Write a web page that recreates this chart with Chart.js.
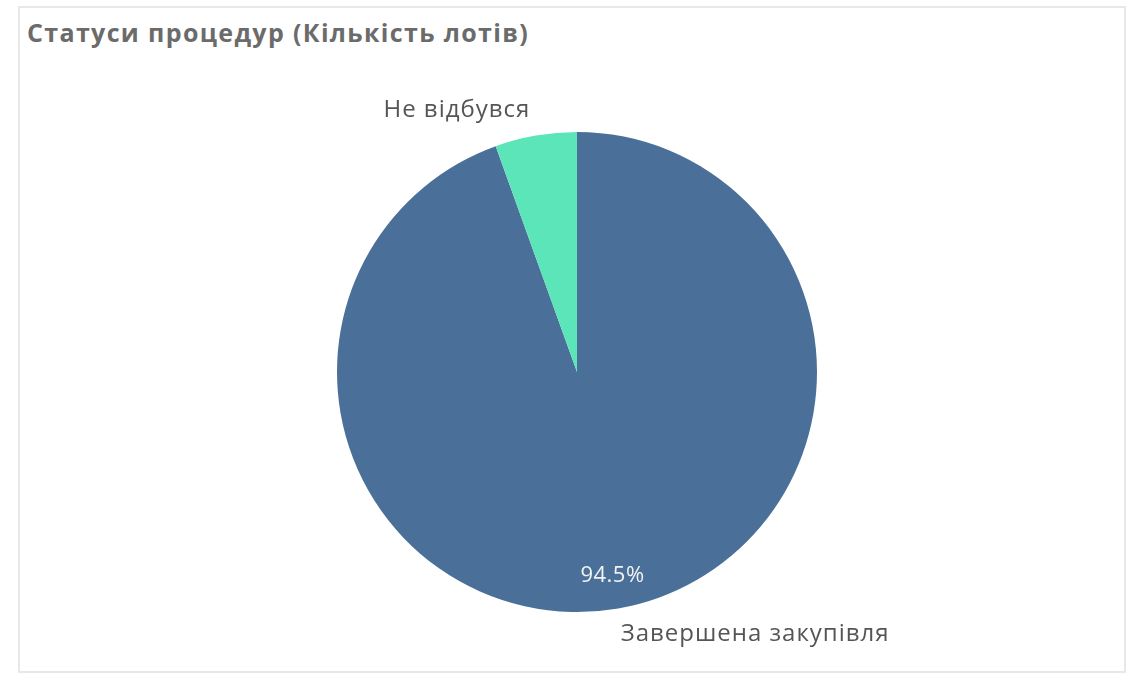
<!DOCTYPE html>
<html>
<head>
<meta charset="utf-8">
<script src="https://cdn.jsdelivr.net/npm/chart.js@4"></script>
<style>
  html, body { margin: 0; padding: 0; background: #fff; }
  #wrap { position: relative; width: 1133px; height: 676px; overflow: hidden; }
  #frame { position: absolute; left: 18px; top: 6px; width: 1108px; height: 667px; border: 2px solid #e8e8e8; box-sizing: border-box; }
  #title { position: absolute; left: 27px; top: 15px; font-family: "Open Sans", sans-serif; font-weight: bold; font-size: 25px; color: #6b6b6b; white-space: nowrap; letter-spacing: 1.35px; }
  canvas { position: absolute; left: 0; top: 0; }
</style>
</head>
<body>
<div id="wrap">
  <div id="frame"></div>
  <div id="title">Статуси процедур (Кількість лотів)</div>
  <canvas id="c" width="1133" height="676"></canvas>
</div>
<script>
const categories = ["Завершена закупівля", "Не відбувся"];
const values = [94.5, 5.5];
const colors = ["#4a7099", "#5ce5b8"];

const labelPlugin = {
  id: 'pieLabels',
  afterDatasetsDraw(chart) {
    const ctx = chart.ctx;
    const meta = chart.getDatasetMeta(0);
    const total = values.reduce((a, b) => a + b, 0);
    meta.data.forEach((arc, i) => {
      const p = arc.getProps(['x', 'y', 'startAngle', 'endAngle', 'outerRadius'], true);
      const mid = (p.startAngle + p.endAngle) / 2;
      const cx = Math.cos(mid), cy = Math.sin(mid);
      const r = p.outerRadius * 1.058;
      const lx = p.x + cx * r, ly = p.y + cy * r;
      ctx.save();
      ctx.font = '24px "Open Sans", sans-serif';
      ctx.letterSpacing = '1px';
      ctx.fillStyle = '#555555';
      ctx.textAlign = cx >= 0 ? 'left' : 'right';
      ctx.textBaseline = cy >= 0 ? 'top' : 'bottom';
      ctx.fillText(categories[i], lx + (cx >= 0 ? 0 : -3), ly);
      ctx.restore();
      const pct = values[i] / total * 100;
      if (pct > 20) {
        const ri = p.outerRadius * 0.86;
        ctx.save();
        ctx.font = '22px "Open Sans", sans-serif';
        ctx.letterSpacing = '0.5px';
        ctx.fillStyle = '#f2f2f2';
        ctx.textAlign = 'center';
        ctx.textBaseline = 'middle';
        ctx.fillText(pct.toFixed(1) + '%', p.x + cx * ri, p.y + cy * ri);
        ctx.restore();
      }
    });
  }
};

new Chart(document.getElementById('c'), {
  type: 'pie',
  data: {
    labels: categories,
    datasets: [{ data: values, backgroundColor: colors, borderWidth: 0, hoverOffset: 0 }]
  },
  options: {
    responsive: false,
    animation: false,
    layout: { padding: { top: 132, bottom: 64, left: 100, right: 79 } },
    plugins: { legend: { display: false }, tooltip: { enabled: false } }
  },
  plugins: [labelPlugin]
});
</script>
</body>
</html>
